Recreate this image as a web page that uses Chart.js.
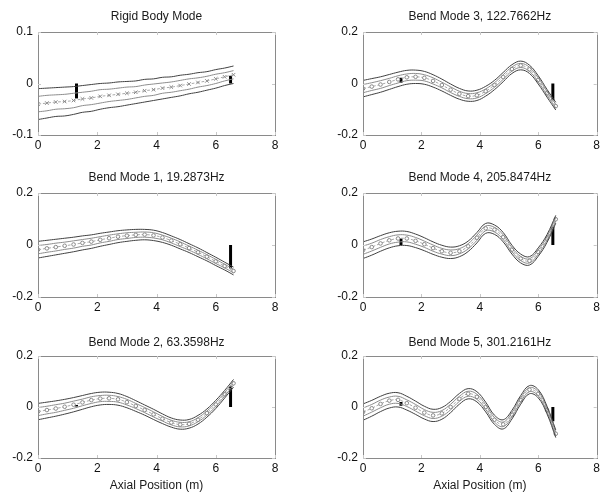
<!DOCTYPE html>
<html><head><meta charset="utf-8">
<script src="https://cdn.jsdelivr.net/npm/chart.js@4.4.0/dist/chart.umd.min.js"></script>
<style>
html,body{margin:0;padding:0;background:#fff;width:603px;height:495px;overflow:hidden;}
canvas{position:absolute;}
</style></head><body>
<canvas id="c0" width="300" height="157" style="left:0px;top:0px"></canvas>
<canvas id="c3" width="278" height="157" style="left:325px;top:0px"></canvas>
<canvas id="c1" width="300" height="158" style="left:0px;top:161px"></canvas>
<canvas id="c4" width="278" height="158" style="left:325px;top:161px"></canvas>
<canvas id="c2" width="300" height="171" style="left:0px;top:324px"></canvas>
<canvas id="c5" width="278" height="171" style="left:325px;top:324px"></canvas>
<script>
// ---------- data ----------
const positions = [0,0.3,0.6,0.9,1.2,1.5,1.8,2.1,2.4,2.7,3.0,3.3,3.6,3.9,4.2,4.5,4.8,5.1,5.4,5.7,6.0,6.3,6.6];

const titles = ["Rigid Body Mode","Bend Mode 1, 19.2873Hz","Bend Mode 2, 63.3598Hz",
                "Bend Mode 3, 122.7662Hz","Bend Mode 4, 205.8474Hz","Bend Mode 5, 301.2161Hz"];

const rigidCenter = [-0.040,-0.038,-0.036,-0.035,-0.033,-0.030,-0.028,-0.025,-0.023,-0.021,-0.019,-0.017,-0.014,-0.012,-0.009,-0.007,-0.004,-0.001,0.002,0.005,0.009,0.013,0.017];
const bend1Center = [-0.018,-0.013,-0.008,-0.003,0.002,0.008,0.013,0.020,0.026,0.032,0.036,0.039,0.040,0.037,0.029,0.017,0.003,-0.012,-0.028,-0.045,-0.063,-0.081,-0.100];
const bend2Center = [-0.018,-0.012,-0.006,0.001,0.009,0.018,0.027,0.033,0.034,0.030,0.019,0.004,-0.012,-0.029,-0.046,-0.061,-0.069,-0.066,-0.050,-0.024,0.010,0.050,0.093];
const bend3Center = [-0.020,-0.012,-0.004,0.006,0.016,0.024,0.026,0.022,0.010,-0.006,-0.024,-0.040,-0.049,-0.046,-0.030,-0.006,0.025,0.056,0.070,0.055,0.014,-0.038,-0.088];
const bend4Center = [-0.020,-0.008,0.006,0.018,0.025,0.025,0.016,0.003,-0.012,-0.024,-0.030,-0.024,-0.005,0.028,0.064,0.059,0.030,-0.018,-0.052,-0.061,-0.027,0.025,0.099];
const bend5Center = [-0.020,-0.005,0.012,0.025,0.028,0.015,-0.003,-0.022,-0.033,-0.025,0.000,0.032,0.052,0.040,0.000,-0.050,-0.068,-0.030,0.028,0.068,0.052,-0.012,-0.105];

// half-widths of the outer and inner bound curves
const rigidOuter = [0.030,0.029,0.028,0.028,0.027,0.026,0.026,0.025,0.024,0.024,0.023,0.022,0.022,0.021,0.021,0.020,0.020,0.019,0.019,0.018,0.018,0.017,0.017];
const rigidInner = [0.015,0.015,0.014,0.014,0.014,0.013,0.013,0.013,0.012,0.012,0.012,0.011,0.011,0.011,0.010,0.010,0.010,0.010,0.009,0.009,0.009,0.008,0.008];
const bendOuter = [0.032,0.031,0.030,0.029,0.028,0.027,0.026,0.025,0.024,0.023,0.022,0.021,0.020,0.020,0.019,0.018,0.018,0.017,0.017,0.016,0.016,0.015,0.015];
const bendInner = [0.016,0.015,0.015,0.014,0.014,0.013,0.013,0.012,0.012,0.011,0.011,0.010,0.010,0.010,0.009,0.009,0.009,0.008,0.008,0.008,0.008,0.007,0.007];

// sensor bars: x positions and [low, high] per mode
const sensorX = [1.3, 6.5];
const fwdBars = [[-0.029,0.0], null, [0.002,0.008], [0.003,0.022], [0.0,0.025], [0.005,0.020]];
const aftBars = [[0.0,0.015], [-0.090,0.0], [0.0,0.081], [-0.065,0.0], [0.0,0.070], [-0.056,0.0]];

const rigidYTicks = [-0.1, 0, 0.1];
const bendYTicks = [-0.2, 0, 0.2];
const xTicks = [0, 2, 4, 6, 8];
const xAxisTitle = "Axial Position (m)";

// ---------- drawing ----------
const FONT = "'Liberation Sans', Arial, sans-serif";
const centers = [rigidCenter, bend1Center, bend2Center, bend3Center, bend4Center, bend5Center];

const boxPlugin = {
  id: 'box',
  afterDraw(chart) {
    const {ctx, chartArea: a} = chart;
    ctx.save();
    ctx.strokeStyle = '#8a8a8a';
    ctx.lineWidth = 1;
    ctx.strokeRect(Math.round(a.left) + 0.5, Math.round(a.top) + 0.5, Math.round(a.right - a.left), Math.round(a.bottom - a.top));
    ctx.strokeStyle = '#c8c8c8';
    const xs = chart.scales.x, ys = chart.scales.y;
    ctx.beginPath();
    xs.ticks.forEach(t => {
      const px = Math.round(xs.getPixelForValue(t.value)) + 0.5;
      ctx.moveTo(px, a.top); ctx.lineTo(px, a.top + 3);
      ctx.moveTo(px, a.bottom); ctx.lineTo(px, a.bottom - 3);
    });
    ys.ticks.forEach(t => {
      const py = Math.round(ys.getPixelForValue(t.value)) + 0.5;
      ctx.moveTo(a.left, py); ctx.lineTo(a.left + 3, py);
      ctx.moveTo(a.right, py); ctx.lineTo(a.right - 3, py);
    });
    ctx.stroke();
    ctx.restore();
  }
};

function pts(arr, sign, width) {
  return positions.map((x, i) => ({x, y: arr[i] + sign * (width ? width[i] : 0)}));
}

function makeChart(k) {
  const rigid = k === 0;
  const center = centers[k];
  const outer = rigid ? rigidOuter : bendOuter;
  const inner = rigid ? rigidInner : bendInner;
  const row = k % 3;
  const rightCol = k >= 3;
  const line = (data, color, w) => ({data, borderColor: color, borderWidth: w, pointRadius: 0, tension: 0.4, fill: false});
  const datasets = [
    line(pts(center, 1, outer), '#404040', 1),
    line(pts(center, -1, outer), '#404040', 1),
    line(pts(center, 1, inner), '#8c8c8c', 1),
    line(pts(center, -1, inner), '#8c8c8c', 1),
    {data: pts(center, 0), borderColor: '#a8a8a8', borderWidth: 1, borderDash: [3, 2], tension: 0.4,
     pointStyle: rigid ? 'crossRot' : 'circle', pointRadius: rigid ? 2.5 : 1.8,
     pointBorderColor: '#8a8a8a', pointBackgroundColor: '#ffffff', pointBorderWidth: 1, fill: false}
  ];
  [fwdBars[k], aftBars[k]].forEach((b, j) => {
    if (!b) return;
    datasets.push({data: [{x: sensorX[j], y: b[0]}, {x: sensorX[j], y: b[1]}],
      borderColor: '#000', borderWidth: 3, pointRadius: 0, tension: 0, fill: false, borderCapStyle: 'butt'});
  });
  const yT = rigid ? rigidYTicks : bendYTicks;
  const isBottom = row === 2;
  new Chart(document.getElementById('c' + k), {
    type: 'line',
    data: {datasets},
    options: {
      responsive: false, animation: false, events: [],
      layout: {padding: {left: 0, right: rightCol ? 3 : 25, top: 0, bottom: 0}},
      plugins: {
        legend: {display: false}, tooltip: {enabled: false},
        title: {display: true, text: titles[k], fullSize: false, color: '#1a1a1a',
          font: {family: FONT, size: 12, weight: 'normal'},
          padding: isBottom ? {top: 11.8, bottom: 5.8} : {top: 9.8, bottom: 7.8}}
      },
      scales: {
        x: {type: 'linear', min: xTicks[0], max: xTicks[xTicks.length - 1],
          afterBuildTicks(s) { s.ticks = xTicks.map(v => ({value: v})); },
          ticks: {color: '#111', font: {family: FONT, size: 12}, padding: 3, maxRotation: 0, autoSkip: false,
            callback: v => String(v)},
          grid: {display: true, drawOnChartArea: false, drawTicks: false},
          border: {color: '#8a8a8a'},
          title: {display: isBottom, text: xAxisTitle, color: '#1a1a1a', font: {family: FONT, size: 12}, padding: {top: 0, bottom: 1.8}},
          afterFit(s) { s.height = isBottom ? 37 : 22; }
        },
        y: {type: 'linear', min: yT[0], max: yT[yT.length - 1],
          afterBuildTicks(s) { s.ticks = yT.map(v => ({value: v})); },
          ticks: {color: '#111', font: {family: FONT, size: 12}, padding: 5, autoSkip: false,
            callback: v => String(Math.round(v * 10) / 10)},
          grid: {display: true, drawOnChartArea: false, drawTicks: false},
          border: {color: '#8a8a8a'},
          afterFit(s) { s.width = 38; }
        }
      }
    },
    plugins: [boxPlugin]
  });
}
for (let k = 0; k < 6; k++) makeChart(k);
</script>
</body></html>
